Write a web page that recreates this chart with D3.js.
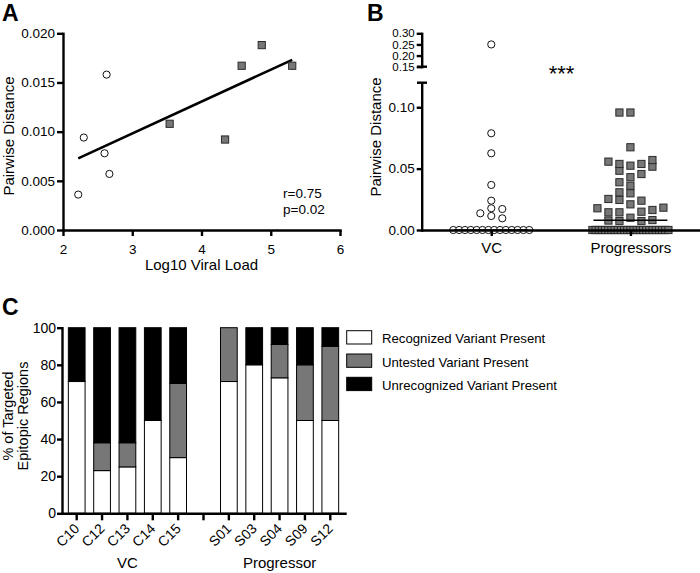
<!DOCTYPE html>
<html><head><meta charset="utf-8">
<script src="https://cdn.jsdelivr.net/npm/d3@7/dist/d3.min.js"></script>
<style>html,body{margin:0;padding:0;background:#fff;}svg{display:block}</style>
</head><body>
<svg id="fig" width="700" height="573"></svg>
<script>
// ---------------- Panel A data ----------------
const vcViralLoad   = [2.22, 2.30, 2.60, 2.63, 2.67];
const vcPairDist    = [0.0036, 0.0094, 0.0078, 0.0158, 0.0057];
const progViralLoad = [3.54, 4.34, 4.58, 4.87, 5.31];
const progPairDist  = [0.0108, 0.0092, 0.0167, 0.0188, 0.0167];
const aXTicks = [2, 3, 4, 5, 6];
const aYTicks = [0, 0.005, 0.010, 0.015, 0.020];
const aStats  = ["r=0.75", "p=0.02"];
const aXTitle = "Log10 Viral Load";
const abYTitle = "Pairwise Distance";

// ---------------- Panel B data ----------------
const bGroups = ["VC", "Progressors"];
const bVC = [0.0114, 0.0136, 0.0177, 0.0171, 0.0239, 0.0095, 0.0367, 0.0625, 0.0788, 0.25,
  0,0,0,0,0,0,0,0,0,0,0,0,0,0];
const bProg = [0.0100, 0.0209, 0.0144, 0.0149, 0.0144, 0.0163, 0.0177, 0.0182,
  0.0073, 0.0073, 0.0077, 0.0081, 0.0245, 0.0239, 0.0253, 0.0299, 0.0307,
  0.0430, 0.0524, 0.0483, 0.0456, 0.0361, 0.0389, 0.0538, 0.0538, 0.0557,
  0.0516, 0.0570, 0.0674, 0.0957, 0.0957,
  0,0,0,0,0,0,0,0,0,0,0,0,0,0,0,0,0,0,0,0,0,0,0,0,0];
const bLowTicks  = [0, 0.05, 0.10];
const bHighTicks = [0.15, 0.20, 0.25, 0.30];
const bSignif = "***";

// ---------------- Panel C data ----------------
const cPatients     = ["C10","C12","C13","C14","C15","","S01","S03","S04","S09","S12"];
const cRecognized   = [71, 23, 25, 50, 30, null, 71, 80, 73, 50, 50];
const cUntested     = [ 0, 15, 13,  0, 40, null, 29,  0, 18, 30, 40];
const cUnrecognized = [29, 62, 62, 50, 30, null,  0, 20,  9, 20, 10];
const cGroups = ["VC", "Progressor"];
const cGroupMembers = [["C10","C12","C13","C14","C15"], ["S01","S03","S04","S09","S12"]];
const cYTicks = [0, 20, 40, 60, 80, 100];
const cKeys = ["Recognized Variant Present", "Untested Variant Present", "Unrecognized Variant Present"];
const cYTitle = ["% of Targeted", "Epitopic Regions"];

// ---------------- drawing ----------------
const svg = d3.select("#fig");
const FONT = "'Liberation Sans', Arial, Helvetica, sans-serif";
const AXW = 2.4;
const GRAY = "#777777";

function styleAxis(g, fs) {
  g.attr("font-family", FONT).attr("font-size", fs);
  g.select(".domain").attr("stroke", "#000").attr("stroke-width", AXW).attr("stroke-linecap", "square");
  g.selectAll(".tick line").attr("stroke", "#000").attr("stroke-width", AXW);
  g.selectAll(".tick text").attr("fill", "#000");
}
function txt(x, y, t, fs, opts = {}) {
  const e = svg.append("text").attr("x", x).attr("y", y).text(t)
    .attr("font-family", FONT).attr("font-size", fs).attr("fill", "#000")
    .attr("text-anchor", opts.anchor || "start");
  if (opts.bold) e.attr("font-weight", "bold");
  if (opts.rotate) e.attr("transform", `rotate(${opts.rotate},${x},${y})`);
  return e;
}
function square(g, x, y, s) {
  g.append("rect").attr("x", x - s / 2).attr("y", y - s / 2).attr("width", s).attr("height", s)
    .attr("fill", GRAY).attr("stroke", "#2a2a2a").attr("stroke-width", 1);
}
function circle(g, x, y, r) {
  g.append("circle").attr("cx", x).attr("cy", y).attr("r", r)
    .attr("fill", "#fff").attr("stroke", "#111").attr("stroke-width", 1);
}

// ===== Panel A =====
const xA = d3.scaleLinear().domain([2, 6]).range([63, 340]);
const yA = d3.scaleLinear().domain([0, 0.02]).range([230, 33.3]);
const gA = svg.append("g");
const allX = vcViralLoad.concat(progViralLoad), allY = vcPairDist.concat(progPairDist);
const mx = d3.mean(allX), my = d3.mean(allY);
const slope = d3.sum(allX, (x, i) => (x - mx) * (allY[i] - my)) / d3.sum(allX, x => (x - mx) ** 2);
const ext = d3.extent(allX);
gA.append("line")
  .attr("x1", xA(ext[0])).attr("y1", yA(my + slope * (ext[0] - mx)))
  .attr("x2", xA(ext[1])).attr("y2", yA(my + slope * (ext[1] - mx)))
  .attr("stroke", "#000").attr("stroke-width", 2.6);
vcViralLoad.forEach((x, i) => circle(gA, xA(x), yA(vcPairDist[i]), 3.6));
progViralLoad.forEach((x, i) => square(gA, xA(x), yA(progPairDist[i]), 7.2));
gA.append("g").attr("transform", "translate(0,230)")
  .call(d3.axisBottom(xA).tickValues(aXTicks).tickFormat(d3.format("d")).tickSize(6).tickSizeOuter(0).tickPadding(8))
  .call(styleAxis, 13.5);
gA.append("g").attr("transform", "translate(63,0)")
  .call(d3.axisLeft(yA).tickValues(aYTicks).tickFormat(d3.format(".3f")).tickSize(6).tickSizeOuter(0).tickPadding(2))
  .call(styleAxis, 13.5);
txt(283, 198, aStats[0], 13.5);
txt(283, 214, aStats[1], 13.5);
txt(201.5, 269.5, aXTitle, 15, { anchor: "middle" });
txt(14, 136, abYTitle, 15, { anchor: "middle", rotate: -90 });
txt(2, 21, "A", 23, { bold: true });

// ===== Panel B =====
const xB = d3.scalePoint().domain(bGroups).range([421.7, 700]).padding(0.5);
const yLow = d3.scaleLinear().domain([0, 0.12]).range([230, 82.7]);
const yHigh = d3.scaleLinear().domain([0.15, 0.30]).range([66.7, 33.3]);
const yB = v => (v >= 0.15 ? yHigh(v) : yLow(v));

function swarm(values, cx, step, T, maxHalf) {
  const counts = d3.rollup(values, v => v.length, d => d);
  const slots = [0, -1, 1, -2, 2, -3, 3, -4, 4, -5, 5, -6, 6];
  const placed = [], out = [], rowIdx = new Map();
  values.forEach(v => {
    const n = counts.get(v), y = yB(v);
    if (n > 7) {
      const i = rowIdx.get(v) || 0; rowIdx.set(v, i + 1);
      const s = Math.min(step, 2 * maxHalf / (n - 1));
      out.push({ v, x: cx + (i - (n - 1) / 2) * s, y });
    } else {
      for (const k of slots) {
        if (!placed.some(p => p.k === k && Math.abs(p.y - y) < T)) {
          placed.push({ k, y }); out.push({ v, x: cx + k * step, y }); break;
        }
      }
    }
  });
  return out;
}
const gB = svg.append("g");
const vcPts = swarm(bVC, xB("VC"), 11, 6.5, 38);
const prPts = swarm(bProg, xB("Progressors"), 11, 6.5, 38);
vcPts.forEach(p => circle(gB, p.x, p.y, 3.6));
prPts.forEach(p => square(gB, p.x, p.y, 7.2));
[[bVC, "VC"], [bProg, "Progressors"]].forEach(([vals, g]) => {
  const m = d3.median(vals);
  gB.append("line").attr("x1", xB(g) - 37).attr("x2", xB(g) + 37)
    .attr("y1", yLow(m)).attr("y2", yLow(m)).attr("stroke", "#000").attr("stroke-width", 1.6);
});
gB.append("g").attr("transform", "translate(0,230)")
  .call(d3.axisBottom(xB).tickSize(6).tickSizeOuter(0).tickPadding(6.5))
  .call(styleAxis, 15);
gB.append("g").attr("transform", "translate(421.7,0)")
  .call(d3.axisLeft(yLow).tickValues(bLowTicks).tickFormat(d3.format(".2f")).tickSize(5).tickSizeOuter(0).tickPadding(2))
  .call(styleAxis, 13.5);
gB.append("g").attr("transform", "translate(421.7,0)")
  .call(d3.axisLeft(yHigh).tickValues(bHighTicks).tickFormat(d3.format(".2f")).tickSize(5).tickSizeOuter(0).tickPadding(2))
  .call(styleAxis, 11.5);
// axis-break caps
gB.append("line").attr("x1", 417).attr("x2", 427).attr("y1", yLow(0.12)).attr("y2", yLow(0.12))
  .attr("stroke", "#000").attr("stroke-width", AXW);
gB.append("line").attr("x1", 417).attr("x2", 427).attr("y1", yHigh(0.15)).attr("y2", yHigh(0.15))
  .attr("stroke", "#000").attr("stroke-width", AXW);
txt(561.5, 81, bSignif, 22, { anchor: "middle" });
txt(381, 137, abYTitle, 15, { anchor: "middle", rotate: -90 });
txt(367, 21, "B", 23, { bold: true });

// ===== Panel C =====
const xC = d3.scaleBand().domain(cPatients).range([62, 345]).paddingInner(0.34).paddingOuter(0.25);
const yC = d3.scaleLinear().domain([0, 100]).range([513.3, 327.7]);
const rows = cPatients.map((p, i) => ({ p, r: cRecognized[i], u: cUntested[i], n: cUnrecognized[i] }))
  .filter(d => d.r != null);
const stacked = d3.stack().keys(["r", "u", "n"])(rows);
const cFill = ["#ffffff", GRAY, "#000000"];
const gC = svg.append("g");
stacked.forEach((layer, li) => {
  layer.forEach(seg => {
    if (seg[1] - seg[0] <= 0) return;
    gC.append("rect").attr("x", xC(seg.data.p)).attr("width", xC.bandwidth())
      .attr("y", yC(seg[1])).attr("height", yC(seg[0]) - yC(seg[1]))
      .attr("fill", cFill[li]).attr("stroke", "#000").attr("stroke-width", 1);
  });
});
gC.append("g").attr("transform", "translate(0,513.3)")
  .call(d3.axisBottom(xC).tickSize(7).tickSizeOuter(0).tickFormat(""))
  .call(styleAxis, 14);
gC.append("g").attr("transform", "translate(62,0)")
  .call(d3.axisLeft(yC).tickValues(cYTicks).tickFormat(d3.format("d")).tickSize(5).tickSizeOuter(0).tickPadding(1))
  .call(styleAxis, 14);
cPatients.forEach(p => {
  if (!p) return;
  const x = xC(p) + xC.bandwidth() / 2 + 3.5;
  txt(x, 529.5, p, 14, { anchor: "end", rotate: -45 });
});
cGroups.forEach((g, i) => {
  const mem = cGroupMembers[i];
  const cx = (xC(mem[0]) + xC(mem[mem.length - 1]) + xC.bandwidth()) / 2;
  txt(cx, 568, g, 15, { anchor: "middle" });
});
txt(13, 416, cYTitle[0], 14.5, { anchor: "middle", rotate: -90 });
txt(28, 416, cYTitle[1], 14.5, { anchor: "middle", rotate: -90 });
txt(2, 315, "C", 23, { bold: true });
// legend
cKeys.forEach((k, i) => {
  const y = 330.7 + i * 23.3;
  svg.append("rect").attr("x", 346.7).attr("y", y).attr("width", 25).attr("height", 13.3)
    .attr("fill", cFill[i]).attr("stroke", "#000").attr("stroke-width", 1);
  txt(382, y + 12.6, k, 13.2);
});
</script>
</body></html>
